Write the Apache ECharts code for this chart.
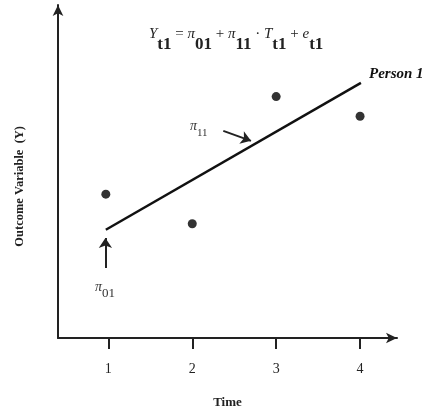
<!DOCTYPE html>
<html>
<head>
<meta charset="utf-8">
<script src="https://cdn.jsdelivr.net/npm/echarts@6/dist/echarts.min.js"></script>
<style>
  html, body { margin: 0; padding: 0; background: #fff; }
  #chart { width: 435px; height: 414px; }
</style>
</head>
<body>
<div id="chart"></div>
<script>
const SERIF = '"Liberation Serif", "DejaVu Serif", serif'

// observed points for Person 1
const times = [0.97, 2, 3, 4]
const outcomes = [4.32, 3.43, 7.25, 6.66]
// fitted trajectory (start, end)
const lineTimes = [0.97, 4.01]
const lineValues = [3.25, 7.66]
// annotation arrows [from, to]
const arrowPi01 = [[0.965, 2.10], [0.965, 3.0]]
const arrowPi11 = [[2.37, 6.22], [2.7, 5.92]]
const tickValues = [1, 2, 3, 4]

const chart = echarts.init(document.getElementById('chart'))

const sub = { fontFamily: SERIF, fontWeight: 'bold', fontSize: 17, lineHeight: 26, verticalAlign: 'bottom', fill: '#222' }
const it = { fontFamily: SERIF, fontStyle: 'italic', fontSize: 15, lineHeight: 26, verticalAlign: 'top', fill: '#222' }
const op = { fontFamily: SERIF, fontSize: 15, lineHeight: 26, verticalAlign: 'top', fill: '#222' }

chart.setOption({
  animation: false,
  grid: { left: 58, right: 38, top: 5, bottom: 71 },
  xAxis: {
    type: 'value',
    min: 0.4,
    max: 4.44,
    splitLine: { show: false },
    axisLine: { lineStyle: { color: '#222', width: 2 }, symbol: ['none', 'arrow'], symbolSize: [8, 11] },
    axisTick: { show: true, customValues: tickValues, length: 11, lineStyle: { color: '#222', width: 2 } },
    axisLabel: { customValues: tickValues, margin: 24, fontFamily: SERIF, fontSize: 14, color: '#222' },
    name: 'Time',
    nameLocation: 'middle',
    nameGap: 58,
    nameTextStyle: { fontFamily: SERIF, fontWeight: 'bold', fontSize: 13, color: '#222' }
  },
  yAxis: {
    type: 'value',
    min: 0,
    max: 10,
    splitLine: { show: false },
    axisLine: { lineStyle: { color: '#222', width: 2 }, symbol: ['none', 'arrow'], symbolSize: [8, 11] },
    axisTick: { show: false },
    axisLabel: { show: false }
  },
  graphic: [
    {
      type: 'text', left: 13, top: 126, rotation: Math.PI / 2,
      style: { text: 'Outcome Variable  (Y)', fontFamily: SERIF, fontWeight: 'bold', fontSize: 12.5, fill: '#222' }
    },
    {
      type: 'text', left: 149, top: 27,
      style: {
        text: '{i|Y}{s|t1}{o| = }{i|π}{s|01}{o| + }{i|π}{s|11}{o| · }{i|T}{s|t1}{o| + }{i|e}{s|t1}',
        rich: { i: it, s: sub, o: op }
      }
    },
    {
      type: 'text', left: 369, top: 67,
      style: { text: 'Person 1', fontFamily: SERIF, fontWeight: 'bold', fontStyle: 'italic', fontSize: 15, fill: '#111' }
    },
    {
      type: 'text', left: 95, top: 280,
      style: { text: '{i|π}{s|01}', rich: {
        i: { fontFamily: SERIF, fontStyle: 'italic', fontSize: 14, lineHeight: 20, verticalAlign: 'top', fill: '#333' },
        s: { fontFamily: SERIF, fontSize: 13, lineHeight: 20, verticalAlign: 'bottom', fill: '#333' } } }
    },
    {
      type: 'text', left: 190, top: 119,
      style: { text: '{i|π}{s|11}', rich: {
        i: { fontFamily: SERIF, fontStyle: 'italic', fontSize: 14, lineHeight: 20, verticalAlign: 'top', fill: '#333' },
        s: { fontFamily: SERIF, fontSize: 11, lineHeight: 20, verticalAlign: 'bottom', fill: '#333' } } }
    }
  ],
  series: [
    {
      type: 'line',
      data: lineTimes.map((t, i) => [t, lineValues[i]]),
      showSymbol: false,
      lineStyle: { color: '#111', width: 2.5 }
    },
    {
      type: 'scatter',
      data: times.map((t, i) => [t, outcomes[i]]),
      symbolSize: 9,
      itemStyle: { color: '#000' }
    },
    {
      type: 'lines',
      coordinateSystem: 'cartesian2d',
      symbol: ['none', 'arrow'],
      symbolSize: 10,
      lineStyle: { color: '#222', width: 2, opacity: 1 },
      data: [{ coords: arrowPi01 }, { coords: arrowPi11 }]
    }
  ]
})
</script>
</body>
</html>
